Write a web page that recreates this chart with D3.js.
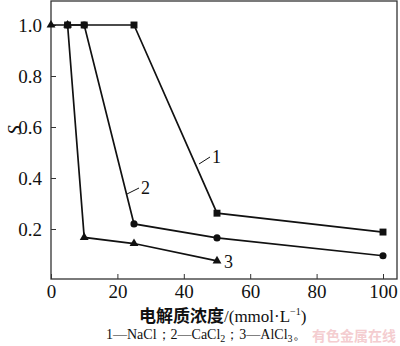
<!DOCTYPE html>
<html>
<head>
<meta charset="utf-8">
<script src="https://cdn.jsdelivr.net/npm/d3@7"></script>
<style>
  body { margin: 0; background: #fff; }
  svg { display: block; }
  text { font-family: "Liberation Serif", "Times New Roman", serif; fill: #111; }
</style>
</head>
<body>
<div id="chart"></div>
<script>
// electrolyte concentration, mmol/L
const concAl = [0, 5, 10, 25, 50];
const concNaCa = [5, 10, 25, 50, 100];
// S values per electrolyte
const nacl = [1.0, 1.0, 1.0, 0.262, 0.188];
const cacl2 = [1.0, 1.0, 0.22, 0.165, 0.095];
const alcl3 = [1.0, 1.0, 0.167, 0.143, 0.075];
const xTicks = [0, 20, 40, 60, 80, 100];
const yTicks = [0.2, 0.4, 0.6, 0.8, 1.0];

const width = 400, height = 346;
const svg = d3.select('#chart').append('svg')
  .attr('width', width)
  .attr('height', height);

const x = d3.scaleLinear().domain([0, 100]).range([51, 383]);
const y = d3.scaleLinear().domain([0, 1]).range([280, 25]);

const plotLeft = 51, plotRight = 397, plotTop = 1, plotBottom = 279;

// frame
svg.append('rect')
  .attr('x', plotLeft).attr('y', plotTop)
  .attr('width', plotRight - plotLeft).attr('height', plotBottom - plotTop)
  .attr('fill', 'none').attr('stroke', '#333').attr('stroke-width', 1.3);

// axes with inward ticks
svg.append('g')
  .attr('transform', `translate(0,${plotBottom})`)
  .call(d3.axisBottom(x).tickValues(xTicks).tickSizeInner(-5).tickSizeOuter(0).tickPadding(6))
  .call(g => g.select('.domain').remove())
  .call(g => g.selectAll('line').attr('stroke', '#333'))
  .call(g => g.selectAll('text').style('font-size', '19px'));

svg.append('g')
  .attr('transform', `translate(${plotLeft},0)`)
  .call(d3.axisLeft(y).tickValues(yTicks).tickFormat(d3.format('.1f')).tickSizeInner(-5).tickSizeOuter(0).tickPadding(9))
  .call(g => g.select('.domain').remove())
  .call(g => g.selectAll('line').attr('stroke', '#333'))
  .call(g => g.selectAll('text').style('font-size', '19px'));

const line = d3.line().x(d => x(d[0])).y(d => y(d[1]));

const series = [
  { xs: concAl, vals: alcl3, shape: d3.symbolTriangle, size: 34 },
  { xs: concNaCa, vals: cacl2, shape: d3.symbolCircle, size: 40 },
  { xs: concNaCa, vals: nacl, shape: d3.symbolSquare, size: 48 }
];

series.forEach(s => {
  const pts = s.vals.map((v, i) => [s.xs[i], v]);
  svg.append('path')
    .datum(pts)
    .attr('d', line)
    .attr('fill', 'none')
    .attr('stroke', '#111')
    .attr('stroke-width', 1.7);
  svg.selectAll(null)
    .data(pts)
    .enter()
    .append('path')
    .attr('d', d3.symbol().type(s.shape).size(s.size))
    .attr('transform', d => `translate(${x(d[0])},${y(d[1])})`)
    .attr('fill', '#111');
});

// curve labels with leader lines
const labels = [
  { t: '1', lx: 212, ly: 163, x1: 199, y1: 164, x2: 210, y2: 157 },
  { t: '2', lx: 141, ly: 194, x1: 127, y1: 194, x2: 139, y2: 188 }
];
labels.forEach(l => {
  svg.append('line')
    .attr('x1', l.x1).attr('y1', l.y1).attr('x2', l.x2).attr('y2', l.y2)
    .attr('stroke', '#111').attr('stroke-width', 1);
  svg.append('text').attr('x', l.lx).attr('y', l.ly)
    .style('font-size', '18px').text(l.t);
});
svg.append('text').attr('x', x(50) + 7).attr('y', y(0.075) + 7)
  .style('font-size', '18px').text('3');

// y title
svg.append('text')
  .attr('transform', 'translate(21,130) rotate(-90)')
  .attr('text-anchor', 'middle')
  .style('font-size', '19px')
  .style('font-style', 'italic')
  .text('S');

// x title
const xt = svg.append('text')
  .attr('x', 139).attr('y', 322)
  .style('font-size', '17px');
xt.append('tspan').style('font-family', '"Noto Sans CJK SC", sans-serif').style('font-weight', 'bold').text('电解质浓度');
xt.append('tspan').text('/(mmol·L');
xt.append('tspan').attr('dy', -7).style('font-size', '10px').text('−1');
xt.append('tspan').attr('dy', 7).text(')');

// legend note
const note = svg.append('text')
  .attr('x', 106).attr('y', 339)
  .style('font-size', '14px');
note.append('tspan').text('1—NaCl；2—CaCl');
note.append('tspan').attr('dy', 3).style('font-size', '10px').text('2');
note.append('tspan').attr('dy', -3).text('；3—AlCl');
note.append('tspan').attr('dy', 3).style('font-size', '10px').text('3');
note.append('tspan').attr('dy', -3).text('。');

// watermark
svg.append('text')
  .attr('x', 396).attr('y', 341)
  .attr('text-anchor', 'end')
  .style('font-family', '"Noto Sans CJK SC", sans-serif')
  .style('font-size', '14px')
  .style('font-weight', 'bold')
  .style('fill', '#f4cdd0')
  .text('有色金属在线');
</script>
</body>
</html>
